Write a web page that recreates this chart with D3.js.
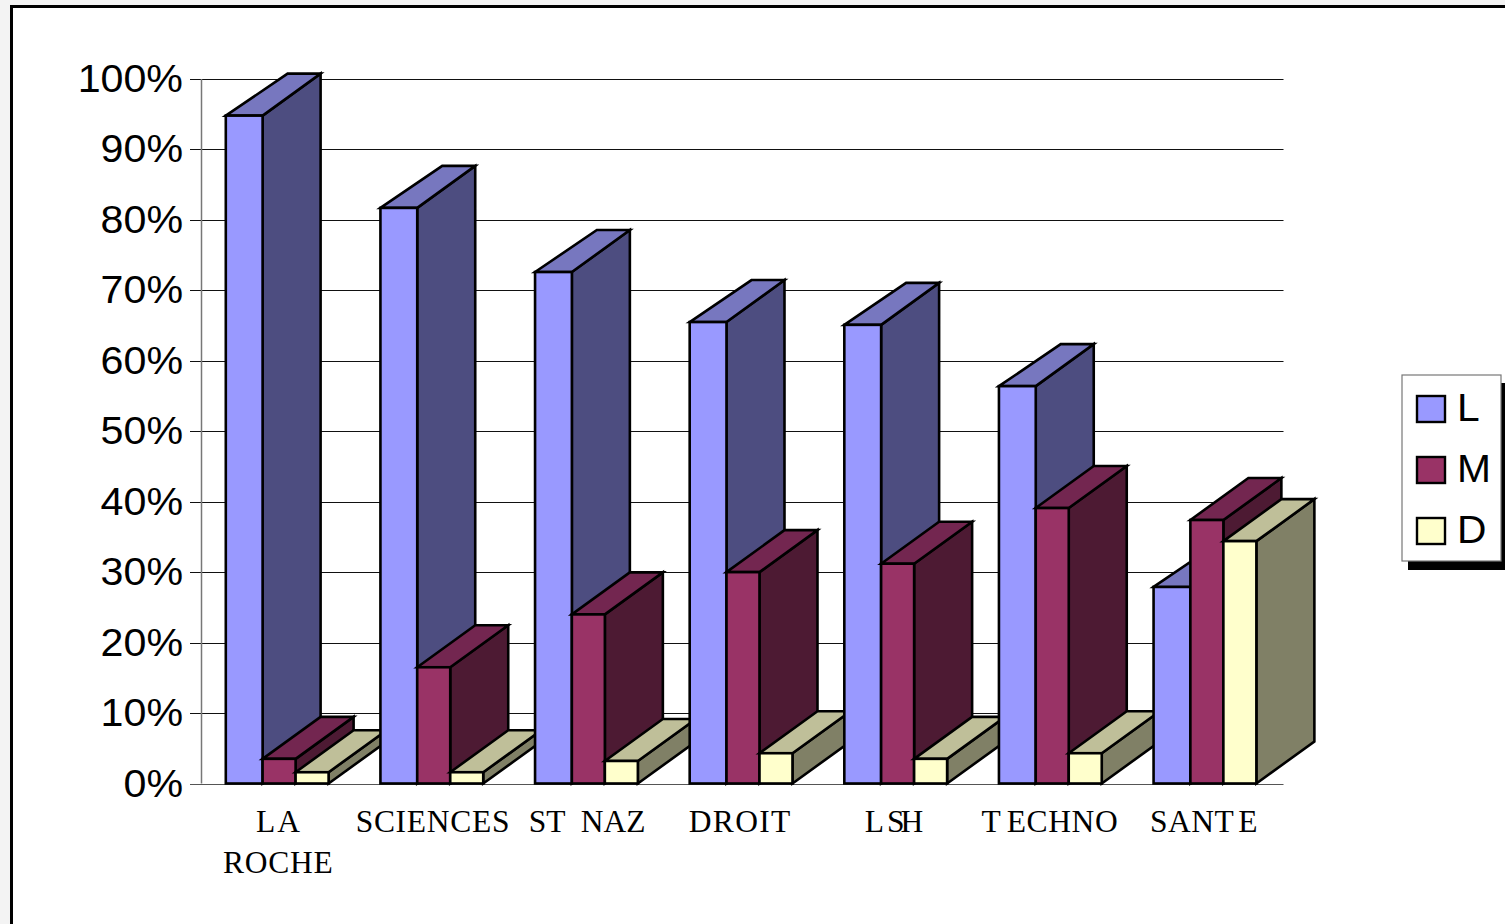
<!DOCTYPE html>
<html><head><meta charset="utf-8">
<script src="https://cdn.jsdelivr.net/npm/d3@7"></script>
<style>html,body{margin:0;padding:0;background:#f3f3f3;overflow:hidden}svg{display:block}</style>
</head><body><svg id="c" width="1505" height="924"></svg>
<script>
const categories = ["LA ROCHE","SCIENCES","ST NAZ","DROIT","LSH","TECHNO","SANTE"];
const categoryLines = [["LA","ROCHE"],["SCIENCES"],["ST  NAZ"],["DROIT"],["LSH"],["TECHNO"],["SANTE"]];
const seriesNames = ["L","M","D"];
const valuesL = [94.8,81.7,72.6,65.5,65.1,56.4,27.9];
const valuesM = [3.5,16.5,24.0,30.0,31.2,39.1,37.4];
const valuesD = [1.6,1.6,3.2,4.3,3.5,4.3,34.4];
const tickValues = [0,10,20,30,40,50,60,70,80,90,100];
const fronts = ["#9999FF","#993366","#FFFFCC"];
const tops = ["#7777BF","#732650","#BFBF99"];
const sides = ["#4D4D80","#4D1A33","#808066"];

const svg = d3.select("#c");
const seriesValues = [valuesL,valuesM,valuesD];
const y = d3.scaleLinear().domain([0,100]).range([783.5,79]);
const x = d3.scaleBand().domain(categories).range([200.6,1283]);
const inner = d3.scaleOrdinal().domain(seriesNames).range([29,62,95]);
const barWidth = 33;
const frontExtra = d3.scaleOrdinal().domain(seriesNames).range([3.8,0,0]);
const depthX = 58, depthY = -42;

// page + frame
svg.append("rect").attr("x",11.5).attr("y",6.5).attr("width",1600).attr("height",1000)
  .attr("fill","#fff").attr("stroke","#000").attr("stroke-width",3);

// gridlines and ticks
svg.append("g").selectAll("line").data(tickValues).join("line")
  .attr("x1",190).attr("x2",1283.5)
  .attr("y1",d=>Math.round(y(d))+.5).attr("y2",d=>Math.round(y(d))+.5)
  .attr("stroke",d=>d===0?"#555":"#111").attr("stroke-width",1.2);
svg.append("line").attr("x1",201.5).attr("x2",201.5).attr("y1",y(100)).attr("y2",y(0))
  .attr("stroke","#777").attr("stroke-width",1.5);

// tick labels
svg.append("g").selectAll("text").data(tickValues).join("text")
  .attr("transform",d=>`translate(183,${y(d)+13}) scale(1.07,1)`).attr("text-anchor","end")
  .attr("font-family","Liberation Sans").attr("font-size",38.5)
  .attr("fill","#000").text(d=>d+"%");

// bars
const gBars = svg.append("g").attr("stroke","#000").attr("stroke-width",2.6).attr("stroke-linejoin","miter");
const pts = a=>a.map(p=>p.join(",")).join(" ");
categories.forEach((cat,i)=>{
  seriesNames.forEach((s,k)=>{
    const x0 = x(cat)+inner(s), x1 = x0+barWidth, yT = y(seriesValues[k][i]), yB = y(0);
    gBars.append("polygon").attr("fill",sides[k])
      .attr("points",pts([[x1,yB],[x1+depthX,yB+depthY],[x1+depthX,yT+depthY],[x1,yT]]));
    gBars.append("polygon").attr("fill",tops[k])
      .attr("points",pts([[x0-frontExtra(s),yT],[x0+depthX,yT+depthY],[x1+depthX,yT+depthY],[x1,yT]]));
    gBars.append("rect").attr("fill",fronts[k])
      .attr("x",x0-frontExtra(s)).attr("y",yT).attr("width",x1-x0+frontExtra(s)).attr("height",yB-yT);
  });
});

// category labels: glyph gaps and shifts follow the uneven spacing of the picture
const labelDx = [[[0,2],[0,.75,.75,.75,.75]],[[0,.7,.7,.7,.7,.7,.7,.7]],[[0]],[[0,1.25,1.25,1.25,1.25]],[[0,3,-4]],[[0,6,.6,.6,.6,.6]],[[0,.5,.5,.5,4.5]]];
const labelShift = [0,0,0,-2.3,-2.4,-1.5,-2];
categoryLines.forEach((lines,i)=>{
  lines.forEach((t,j)=>{
    svg.append("text").attr("x",x(categories[i])+x.bandwidth()/2+labelShift[i]).attr("y",832+j*40.5)
      .attr("dx",labelDx[i][j].join(" "))
      .attr("text-anchor","middle").attr("font-family","Liberation Serif").attr("font-size",31.5)
      .attr("xml:space","preserve").style("white-space","pre").attr("fill","#000").text(t);
  });
});

// legend
svg.append("rect").attr("x",1408).attr("y",383).attr("width",97).attr("height",187).attr("fill","#000");
svg.append("rect").attr("x",1402).attr("y",375).attr("width",99).attr("height",186)
  .attr("fill","#fff").attr("stroke","#777").attr("stroke-width",1.2);
const legendY = d3.scalePoint().domain(seriesNames).range([409,531]);
seriesNames.forEach((s,k)=>{
  svg.append("rect").attr("x",1417).attr("y",legendY(s)-13).attr("width",28).attr("height",26)
    .attr("fill",fronts[k]).attr("stroke","#000").attr("stroke-width",2.4);
  svg.append("text").attr("transform",`translate(1457,${legendY(s)+11.5}) scale(1.06,1)`)
    .attr("font-family","Liberation Sans").attr("font-size",38.5).attr("fill","#000").text(s);
});
</script></body></html>
